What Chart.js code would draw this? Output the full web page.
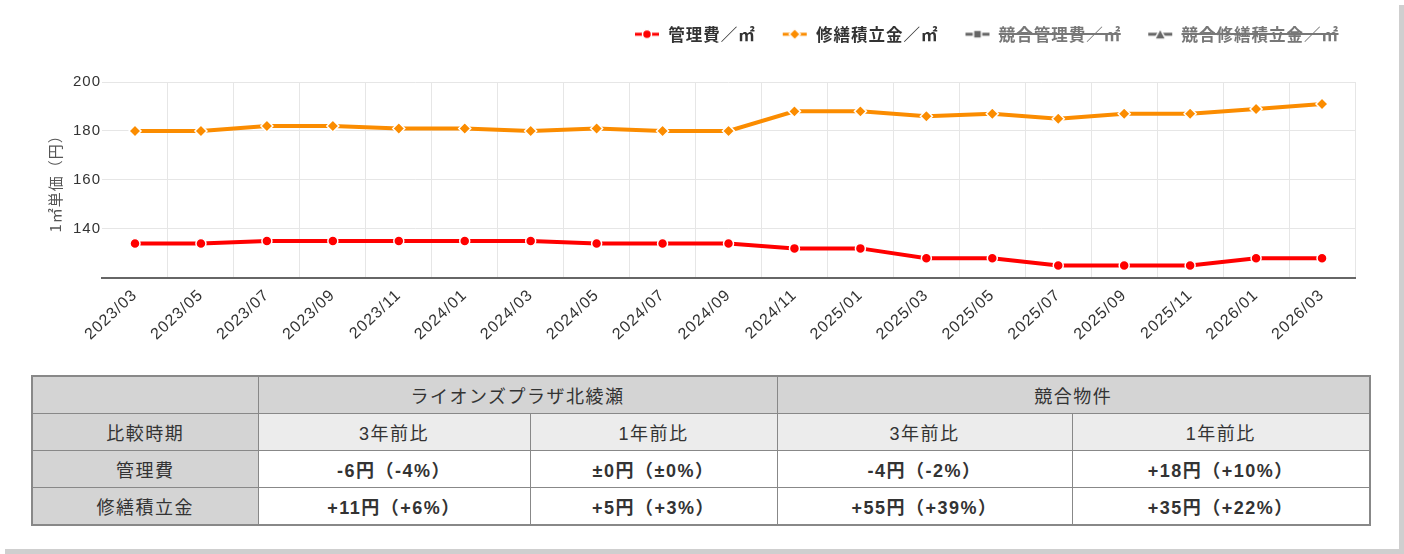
<!DOCTYPE html>
<html lang="ja">
<head>
<meta charset="UTF-8">
<title>管理費・修繕積立金の推移</title>
<script src="https://cdn.jsdelivr.net/npm/chart.js@4.4.0/dist/chart.umd.min.js"></script>
<style>
  html, body { margin: 0; padding: 0; background: #fff; }
  .card {
    position: absolute; left: 0; top: 0; width: 1399px; height: 549px;
    background: #fff; box-shadow: 5px 5px 0 #cfcfcf;
  }
  .chart-box { position: absolute; left: 30px; top: 0; width: 1340px; height: 354px; }
  table.cmp {
    position: absolute; left: 31px; top: 375px; width: 1338px;
    border-collapse: collapse; border: 2px solid #888;
    font-family: "Liberation Sans", "Noto Sans CJK JP", sans-serif; font-size: 18px; color: #333;
    letter-spacing: 1.5px; table-layout: fixed;
  }
  table.cmp td { border: 1px solid #888; height: 36px; text-align: center; padding: 0; }
  table.cmp .head { background: #d4d4d4; }
  table.cmp .sub { background: #ececec; }
  table.cmp .val { background: #fff; font-weight: bold; }
</style>
</head>
<body>
<div class="card">
  <div class="chart-box"><canvas id="myChart"></canvas></div>
  <table class="cmp" id="cmpTable"></table>
</div>
<script>
  // 月（2か月ごと）
  var labels = ['2023/03','2023/05','2023/07','2023/09','2023/11','2024/01','2024/03','2024/05','2024/07','2024/09',
                '2024/11','2025/01','2025/03','2025/05','2025/07','2025/09','2025/11','2026/01','2026/03'];
  var kanriValues  = [134,134,135,135,135,135,135,134,134,134,132,132,128,128,125,125,125,128,128];
  var shuzenValues = [180,180,182,182,181,181,180,181,180,180,188,188,186,187,185,187,187,189,191];
  // 競合物件は非表示（凡例のみ）
  var kyogoKanriValues = [];
  var kyogoShuzenValues = [];
  var yTicks = [140, 160, 180, 200];

  // 表のデータ
  var propertyNames = ['ライオンズプラザ北綾瀬', '競合物件'];
  var periods = ['3年前比', '1年前比'];
  var rowNames = ['管理費', '修繕積立金'];
  var kanriDiff  = ['-6円（-4%）', '±0円（±0%）', '-4円（-2%）', '+18円（+10%）'];
  var shuzenDiff = ['+11円（+6%）', '+5円（+3%）', '+55円（+39%）', '+35円（+22%）'];

  function buildTable(){
    var widths = [226, 272, 247, 295, 298];
    var html = '<colgroup>';
    widths.forEach(function(w){ html += '<col style="width:' + w + 'px">'; });
    html += '</colgroup>';
    html += '<tr><td class="head"></td>';
    propertyNames.forEach(function(n){ html += '<td class="head" colspan="2">' + n + '</td>'; });
    html += '</tr><tr><td class="head">比較時期</td>';
    propertyNames.forEach(function(){
      periods.forEach(function(p){ html += '<td class="sub">' + p + '</td>'; });
    });
    html += '</tr>';
    [kanriDiff, shuzenDiff].forEach(function(vals, i){
      html += '<tr><td class="head">' + rowNames[i] + '</td>';
      vals.forEach(function(v){ html += '<td class="val">' + v + '</td>'; });
      html += '</tr>';
    });
    document.getElementById('cmpTable').innerHTML = html;
  }
  buildTable();

  // 凡例のアイコン（線＋マーカー）
  function makeIcon(color, shape){
    var c = document.createElement('canvas');
    c.width = 26; c.height = 14;
    var g = c.getContext('2d');
    g.strokeStyle = color; g.lineWidth = 3;
    g.beginPath(); g.moveTo(1, 7); g.lineTo(25, 7); g.stroke();
    g.fillStyle = color; g.strokeStyle = '#fff'; g.lineWidth = 1.5;
    g.beginPath();
    if (shape === 'circle') {
      g.arc(13, 7, 4.5, 0, Math.PI * 2);
    } else if (shape === 'diamond') {
      g.moveTo(13, 1.5); g.lineTo(18.5, 7); g.lineTo(13, 12.5); g.lineTo(7.5, 7); g.closePath();
    } else if (shape === 'square') {
      g.rect(9, 3, 8, 8);
    } else {
      g.moveTo(13, 1.5); g.lineTo(18.5, 12); g.lineTo(7.5, 12); g.closePath();
    }
    g.fill(); g.stroke();
    return c;
  }
  var icons = [makeIcon('#ff0000','circle'), makeIcon('#fb8c00','diamond'),
               makeIcon('#666','square'), makeIcon('#666','triangle')];

  // 文字間隔を少し広げる
  function spacing(chart){ chart.ctx.letterSpacing = '1px'; }
  var textSpacing = {
    id: 'textSpacing',
    beforeUpdate: spacing, beforeLayout: spacing, beforeDraw: spacing, resize: spacing
  };

  // 凡例の高さを固定（グラフ上端を揃える）、凡例を少し右へ
  var legendSpace = {
    id: 'legendSpace',
    beforeInit: function(chart){
      var fit = chart.legend.fit;
      chart.legend.fit = function(){
        fit.bind(chart.legend)();
        this.height = 82;
      };
    },
    afterLayout: function(chart){
      chart.legend.right += 10;
    }
  };

  var ctx = document.getElementById('myChart').getContext('2d');
  var lineChart = new Chart(ctx, {
    type: 'line',
    data: {
      labels: labels,
      datasets: [
        { label: '管理費／㎡', data: kanriValues, borderColor: '#ff0000', backgroundColor: '#ff0000',
          borderWidth: 4, pointStyle: 'circle', pointRadius: 5, pointBorderColor: '#fff', pointBorderWidth: 1.5, tension: 0 },
        { label: '修繕積立金／㎡', data: shuzenValues, borderColor: '#fb8c00', backgroundColor: '#fb8c00',
          borderWidth: 4, pointStyle: 'rectRot', pointRadius: 6, pointBorderColor: '#fff', pointBorderWidth: 1.5, tension: 0 },
        { label: '競合管理費／㎡', data: kyogoKanriValues, borderColor: '#666', backgroundColor: '#666',
          pointStyle: 'rect', hidden: true },
        { label: '競合修繕積立金／㎡', data: kyogoShuzenValues, borderColor: '#666', backgroundColor: '#666',
          pointStyle: 'triangle', hidden: true }
      ]
    },
    options: {
      responsive: true,
      maintainAspectRatio: false,
      animation: false,
      devicePixelRatio: 1,
      layout: { padding: { top: 0, right: 15, left: 12, bottom: 2 } },
      plugins: {
        tooltip: { enabled: false },
        legend: {
          position: 'top',
          align: 'end',
          labels: {
            usePointStyle: true,
            pointStyleWidth: 26,
            padding: 26,
            font: { family: '"Noto Sans CJK JP", sans-serif', size: 16.5, weight: 'bold' },
            generateLabels: function(chart){
              var items = Chart.defaults.plugins.legend.labels.generateLabels(chart);
              items.forEach(function(it, i){
                it.pointStyle = icons[i];
                it.fontColor = it.hidden ? '#777' : '#333';
              });
              return items;
            }
          }
        }
      },
      scales: {
        x: {
          offset: true,
          grid: {
            offset: true,
            drawTicks: false,
            color: function(c){ return c.index === 0 ? 'rgba(0,0,0,0)' : '#e6e6e6'; }
          },
          border: { display: true, color: '#666', width: 2 },
          ticks: {
            autoSkip: false, minRotation: 43, maxRotation: 43, padding: 8,
            color: '#333', font: { family: '"Liberation Sans", sans-serif', size: 16 }
          }
        },
        y: {
          min: 120, max: 200,
          afterBuildTicks: function(axis){
            axis.ticks = [120].concat(yTicks).map(function(v){ return { value: v }; });
          },
          grid: { color: '#e6e6e6', drawTicks: false },
          border: { display: false },
          ticks: {
            padding: 1, color: '#333', font: { family: '"Liberation Sans", sans-serif', size: 15 },
            callback: function(v){ return yTicks.indexOf(v) >= 0 ? v : ''; }
          },
          title: {
            display: true, text: '1㎡単価（円）', color: '#555', padding: { top: 4, bottom: 8 },
            font: { family: '"Noto Sans CJK JP", sans-serif', size: 15 }
          }
        }
      }
    },
    plugins: [textSpacing, legendSpace]
  });
</script>
</body>
</html>
